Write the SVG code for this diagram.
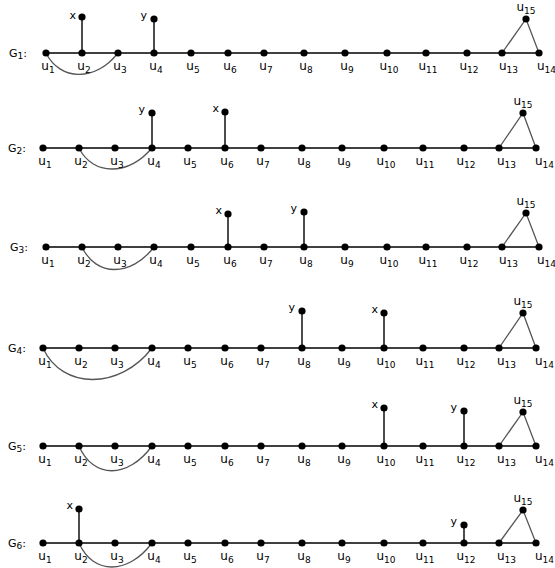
<svg xmlns="http://www.w3.org/2000/svg" width="555" height="568" viewBox="0 0 555 568">
<style>
.e{stroke:#000;stroke-width:1.4;fill:none}
.a{stroke:#555;stroke-width:1.3;fill:none}
circle{fill:#000}
text{font-family:"DejaVu Sans",Verdana,sans-serif;font-size:12px;fill:#000}
.m{text-anchor:middle}
.r{text-anchor:end;font-size:11px}
.s{font-size:9px}
.g{font-size:11px}
</style>
<rect width="555" height="568" fill="#fff"/>
<!-- G1 -->
<g id="connectors-G1">
<line class="e" x1="46" y1="53" x2="539" y2="53"/>
<line class="e" x1="82" y1="53" x2="82" y2="17"/>
<line class="e" x1="154" y1="53" x2="154" y2="19"/>
<path class="a" d="M46,53 C60,81 95,82 118,53"/>
<polyline class="a" points="502,53 526,19 539,53"/>
</g>
<g id="G1-label"><text class="g" x="9" y="57">G<tspan class="s" dy="2">1</tspan><tspan dy="-2">:</tspan></text></g>
<g id="G1-u1"><circle cx="46" cy="53" r="3.6"/><text class="m" x="48" y="70">u<tspan class="s" dy="3">1</tspan></text></g>
<g id="G1-u2"><circle cx="82" cy="53" r="3.6"/><text class="m" x="84" y="70">u<tspan class="s" dy="3">2</tspan></text></g>
<g id="G1-u3"><circle cx="118" cy="53" r="3.6"/><text class="m" x="120" y="70">u<tspan class="s" dy="3">3</tspan></text></g>
<g id="G1-u4"><circle cx="154" cy="53" r="3.6"/><text class="m" x="156" y="70">u<tspan class="s" dy="3">4</tspan></text></g>
<g id="G1-u5"><circle cx="191" cy="53" r="3.6"/><text class="m" x="193" y="70">u<tspan class="s" dy="3">5</tspan></text></g>
<g id="G1-u6"><circle cx="228" cy="53" r="3.6"/><text class="m" x="230" y="70">u<tspan class="s" dy="3">6</tspan></text></g>
<g id="G1-u7"><circle cx="264" cy="53" r="3.6"/><text class="m" x="266" y="70">u<tspan class="s" dy="3">7</tspan></text></g>
<g id="G1-u8"><circle cx="304" cy="53" r="3.6"/><text class="m" x="306" y="70">u<tspan class="s" dy="3">8</tspan></text></g>
<g id="G1-u9"><circle cx="345" cy="53" r="3.6"/><text class="m" x="347" y="70">u<tspan class="s" dy="3">9</tspan></text></g>
<g id="G1-u10"><circle cx="387" cy="53" r="3.6"/><text class="m" x="389" y="70">u<tspan class="s" dy="3">10</tspan></text></g>
<g id="G1-u11"><circle cx="426" cy="53" r="3.6"/><text class="m" x="428" y="70">u<tspan class="s" dy="3">11</tspan></text></g>
<g id="G1-u12"><circle cx="467" cy="53" r="3.6"/><text class="m" x="469" y="70">u<tspan class="s" dy="3">12</tspan></text></g>
<g id="G1-u13"><circle cx="502" cy="53" r="3.6"/><text x="499" y="70">u<tspan class="s" dy="3">13</tspan></text></g>
<g id="G1-u14"><circle cx="539" cy="53" r="3.6"/><text x="537" y="70">u<tspan class="s" dy="3">14</tspan></text></g>
<g id="G1-u15"><circle cx="526" cy="19" r="3.6"/><text class="m" x="526" y="11">u<tspan class="s" dy="3">15</tspan></text></g>
<g id="G1-x"><circle cx="82" cy="17" r="3.6"/><text class="r" x="76" y="19">x</text></g>
<g id="G1-y"><circle cx="154" cy="19" r="3.6"/><text class="r" x="147" y="19">y</text></g>
<!-- G2 -->
<g id="connectors-G2">
<line class="e" x1="43" y1="148" x2="536" y2="148"/>
<line class="e" x1="152" y1="148" x2="152" y2="113"/>
<line class="e" x1="225" y1="148" x2="225" y2="112"/>
<path class="a" d="M79,148 C93,176 128,176 152,148"/>
<polyline class="a" points="499,148 523,113 536,148"/>
</g>
<g id="G2-label"><text class="g" x="8" y="152">G<tspan class="s" dy="2">2</tspan><tspan dy="-2">:</tspan></text></g>
<g id="G2-u1"><circle cx="43" cy="148" r="3.6"/><text class="m" x="45" y="165">u<tspan class="s" dy="3">1</tspan></text></g>
<g id="G2-u2"><circle cx="79" cy="148" r="3.6"/><text class="m" x="81" y="165">u<tspan class="s" dy="3">2</tspan></text></g>
<g id="G2-u3"><circle cx="115" cy="148" r="3.6"/><text class="m" x="117" y="165">u<tspan class="s" dy="3">3</tspan></text></g>
<g id="G2-u4"><circle cx="152" cy="148" r="3.6"/><text class="m" x="154" y="165">u<tspan class="s" dy="3">4</tspan></text></g>
<g id="G2-u5"><circle cx="188" cy="148" r="3.6"/><text class="m" x="190" y="165">u<tspan class="s" dy="3">5</tspan></text></g>
<g id="G2-u6"><circle cx="225" cy="148" r="3.6"/><text class="m" x="227" y="165">u<tspan class="s" dy="3">6</tspan></text></g>
<g id="G2-u7"><circle cx="261" cy="148" r="3.6"/><text class="m" x="263" y="165">u<tspan class="s" dy="3">7</tspan></text></g>
<g id="G2-u8"><circle cx="302" cy="148" r="3.6"/><text class="m" x="304" y="165">u<tspan class="s" dy="3">8</tspan></text></g>
<g id="G2-u9"><circle cx="342" cy="148" r="3.6"/><text class="m" x="344" y="165">u<tspan class="s" dy="3">9</tspan></text></g>
<g id="G2-u10"><circle cx="384" cy="148" r="3.6"/><text class="m" x="386" y="165">u<tspan class="s" dy="3">10</tspan></text></g>
<g id="G2-u11"><circle cx="423" cy="148" r="3.6"/><text class="m" x="425" y="165">u<tspan class="s" dy="3">11</tspan></text></g>
<g id="G2-u12"><circle cx="464" cy="148" r="3.6"/><text class="m" x="466" y="165">u<tspan class="s" dy="3">12</tspan></text></g>
<g id="G2-u13"><circle cx="499" cy="148" r="3.6"/><text x="497" y="165">u<tspan class="s" dy="3">13</tspan></text></g>
<g id="G2-u14"><circle cx="536" cy="148" r="3.6"/><text x="535" y="165">u<tspan class="s" dy="3">14</tspan></text></g>
<g id="G2-u15"><circle cx="523" cy="113" r="3.6"/><text class="m" x="523" y="105">u<tspan class="s" dy="3">15</tspan></text></g>
<g id="G2-y"><circle cx="152" cy="113" r="3.6"/><text class="r" x="145" y="113">y</text></g>
<g id="G2-x"><circle cx="225" cy="112" r="3.6"/><text class="r" x="219" y="112">x</text></g>
<!-- G3 -->
<g id="connectors-G3">
<line class="e" x1="46" y1="247" x2="539" y2="247"/>
<line class="e" x1="228" y1="247" x2="228" y2="214"/>
<line class="e" x1="304" y1="247" x2="304" y2="212"/>
<path class="a" d="M82,247 C96,277 131,277 154,247"/>
<polyline class="a" points="502,247 526,213 539,247"/>
</g>
<g id="G3-label"><text class="g" x="10" y="251">G<tspan class="s" dy="2">3</tspan><tspan dy="-2">:</tspan></text></g>
<g id="G3-u1"><circle cx="46" cy="247" r="3.6"/><text class="m" x="48" y="264">u<tspan class="s" dy="3">1</tspan></text></g>
<g id="G3-u2"><circle cx="82" cy="247" r="3.6"/><text class="m" x="84" y="264">u<tspan class="s" dy="3">2</tspan></text></g>
<g id="G3-u3"><circle cx="118" cy="247" r="3.6"/><text class="m" x="120" y="264">u<tspan class="s" dy="3">3</tspan></text></g>
<g id="G3-u4"><circle cx="154" cy="247" r="3.6"/><text class="m" x="156" y="264">u<tspan class="s" dy="3">4</tspan></text></g>
<g id="G3-u5"><circle cx="191" cy="247" r="3.6"/><text class="m" x="193" y="264">u<tspan class="s" dy="3">5</tspan></text></g>
<g id="G3-u6"><circle cx="228" cy="247" r="3.6"/><text class="m" x="230" y="264">u<tspan class="s" dy="3">6</tspan></text></g>
<g id="G3-u7"><circle cx="264" cy="247" r="3.6"/><text class="m" x="266" y="264">u<tspan class="s" dy="3">7</tspan></text></g>
<g id="G3-u8"><circle cx="304" cy="247" r="3.6"/><text class="m" x="306" y="264">u<tspan class="s" dy="3">8</tspan></text></g>
<g id="G3-u9"><circle cx="345" cy="247" r="3.6"/><text class="m" x="347" y="264">u<tspan class="s" dy="3">9</tspan></text></g>
<g id="G3-u10"><circle cx="387" cy="247" r="3.6"/><text class="m" x="389" y="264">u<tspan class="s" dy="3">10</tspan></text></g>
<g id="G3-u11"><circle cx="426" cy="247" r="3.6"/><text class="m" x="428" y="264">u<tspan class="s" dy="3">11</tspan></text></g>
<g id="G3-u12"><circle cx="467" cy="247" r="3.6"/><text class="m" x="469" y="264">u<tspan class="s" dy="3">12</tspan></text></g>
<g id="G3-u13"><circle cx="502" cy="247" r="3.6"/><text x="499" y="264">u<tspan class="s" dy="3">13</tspan></text></g>
<g id="G3-u14"><circle cx="539" cy="247" r="3.6"/><text x="537" y="264">u<tspan class="s" dy="3">14</tspan></text></g>
<g id="G3-u15"><circle cx="526" cy="213" r="3.6"/><text class="m" x="526" y="205">u<tspan class="s" dy="3">15</tspan></text></g>
<g id="G3-x"><circle cx="228" cy="214" r="3.6"/><text class="r" x="222" y="214">x</text></g>
<g id="G3-y"><circle cx="304" cy="212" r="3.6"/><text class="r" x="297" y="212">y</text></g>
<!-- G4 -->
<g id="connectors-G4">
<line class="e" x1="43" y1="348" x2="536" y2="348"/>
<line class="e" x1="302" y1="348" x2="302" y2="311"/>
<line class="e" x1="384" y1="348" x2="384" y2="313"/>
<path class="a" d="M43,348 C62,390 120,390 152,348"/>
<polyline class="a" points="499,348 523,313 536,348"/>
</g>
<g id="G4-label"><text class="g" x="8" y="352">G<tspan class="s" dy="2">4</tspan><tspan dy="-2">:</tspan></text></g>
<g id="G4-u1"><circle cx="43" cy="348" r="3.6"/><text class="m" x="45" y="365">u<tspan class="s" dy="3">1</tspan></text></g>
<g id="G4-u2"><circle cx="79" cy="348" r="3.6"/><text class="m" x="81" y="365">u<tspan class="s" dy="3">2</tspan></text></g>
<g id="G4-u3"><circle cx="115" cy="348" r="3.6"/><text class="m" x="117" y="365">u<tspan class="s" dy="3">3</tspan></text></g>
<g id="G4-u4"><circle cx="152" cy="348" r="3.6"/><text class="m" x="154" y="365">u<tspan class="s" dy="3">4</tspan></text></g>
<g id="G4-u5"><circle cx="188" cy="348" r="3.6"/><text class="m" x="190" y="365">u<tspan class="s" dy="3">5</tspan></text></g>
<g id="G4-u6"><circle cx="225" cy="348" r="3.6"/><text class="m" x="227" y="365">u<tspan class="s" dy="3">6</tspan></text></g>
<g id="G4-u7"><circle cx="261" cy="348" r="3.6"/><text class="m" x="263" y="365">u<tspan class="s" dy="3">7</tspan></text></g>
<g id="G4-u8"><circle cx="302" cy="348" r="3.6"/><text class="m" x="304" y="365">u<tspan class="s" dy="3">8</tspan></text></g>
<g id="G4-u9"><circle cx="342" cy="348" r="3.6"/><text class="m" x="344" y="365">u<tspan class="s" dy="3">9</tspan></text></g>
<g id="G4-u10"><circle cx="384" cy="348" r="3.6"/><text class="m" x="386" y="365">u<tspan class="s" dy="3">10</tspan></text></g>
<g id="G4-u11"><circle cx="423" cy="348" r="3.6"/><text class="m" x="425" y="365">u<tspan class="s" dy="3">11</tspan></text></g>
<g id="G4-u12"><circle cx="464" cy="348" r="3.6"/><text class="m" x="466" y="365">u<tspan class="s" dy="3">12</tspan></text></g>
<g id="G4-u13"><circle cx="499" cy="348" r="3.6"/><text x="497" y="365">u<tspan class="s" dy="3">13</tspan></text></g>
<g id="G4-u14"><circle cx="536" cy="348" r="3.6"/><text x="535" y="365">u<tspan class="s" dy="3">14</tspan></text></g>
<g id="G4-u15"><circle cx="523" cy="313" r="3.6"/><text class="m" x="523" y="305">u<tspan class="s" dy="3">15</tspan></text></g>
<g id="G4-y"><circle cx="302" cy="311" r="3.6"/><text class="r" x="295" y="311">y</text></g>
<g id="G4-x"><circle cx="384" cy="313" r="3.6"/><text class="r" x="378" y="313">x</text></g>
<!-- G5 -->
<g id="connectors-G5">
<line class="e" x1="43" y1="446" x2="536" y2="446"/>
<line class="e" x1="384" y1="446" x2="384" y2="408"/>
<line class="e" x1="464" y1="446" x2="464" y2="411"/>
<path class="a" d="M79,446 C93,479 128,479 152,446"/>
<polyline class="a" points="499,446 523,412 536,446"/>
</g>
<g id="G5-label"><text class="g" x="8" y="450">G<tspan class="s" dy="2">5</tspan><tspan dy="-2">:</tspan></text></g>
<g id="G5-u1"><circle cx="43" cy="446" r="3.6"/><text class="m" x="45" y="463">u<tspan class="s" dy="3">1</tspan></text></g>
<g id="G5-u2"><circle cx="79" cy="446" r="3.6"/><text class="m" x="81" y="463">u<tspan class="s" dy="3">2</tspan></text></g>
<g id="G5-u3"><circle cx="115" cy="446" r="3.6"/><text class="m" x="117" y="463">u<tspan class="s" dy="3">3</tspan></text></g>
<g id="G5-u4"><circle cx="152" cy="446" r="3.6"/><text class="m" x="154" y="463">u<tspan class="s" dy="3">4</tspan></text></g>
<g id="G5-u5"><circle cx="188" cy="446" r="3.6"/><text class="m" x="190" y="463">u<tspan class="s" dy="3">5</tspan></text></g>
<g id="G5-u6"><circle cx="225" cy="446" r="3.6"/><text class="m" x="227" y="463">u<tspan class="s" dy="3">6</tspan></text></g>
<g id="G5-u7"><circle cx="261" cy="446" r="3.6"/><text class="m" x="263" y="463">u<tspan class="s" dy="3">7</tspan></text></g>
<g id="G5-u8"><circle cx="302" cy="446" r="3.6"/><text class="m" x="304" y="463">u<tspan class="s" dy="3">8</tspan></text></g>
<g id="G5-u9"><circle cx="342" cy="446" r="3.6"/><text class="m" x="344" y="463">u<tspan class="s" dy="3">9</tspan></text></g>
<g id="G5-u10"><circle cx="384" cy="446" r="3.6"/><text class="m" x="386" y="463">u<tspan class="s" dy="3">10</tspan></text></g>
<g id="G5-u11"><circle cx="423" cy="446" r="3.6"/><text class="m" x="425" y="463">u<tspan class="s" dy="3">11</tspan></text></g>
<g id="G5-u12"><circle cx="464" cy="446" r="3.6"/><text class="m" x="466" y="463">u<tspan class="s" dy="3">12</tspan></text></g>
<g id="G5-u13"><circle cx="499" cy="446" r="3.6"/><text x="497" y="463">u<tspan class="s" dy="3">13</tspan></text></g>
<g id="G5-u14"><circle cx="536" cy="446" r="3.6"/><text x="535" y="463">u<tspan class="s" dy="3">14</tspan></text></g>
<g id="G5-u15"><circle cx="523" cy="412" r="3.6"/><text class="m" x="523" y="404">u<tspan class="s" dy="3">15</tspan></text></g>
<g id="G5-x"><circle cx="384" cy="408" r="3.6"/><text class="r" x="378" y="408">x</text></g>
<g id="G5-y"><circle cx="464" cy="411" r="3.6"/><text class="r" x="457" y="411">y</text></g>
<!-- G6 -->
<g id="connectors-G6">
<line class="e" x1="43" y1="543" x2="536" y2="543"/>
<line class="e" x1="79" y1="543" x2="79" y2="509"/>
<line class="e" x1="464" y1="543" x2="464" y2="525"/>
<path class="a" d="M79,543 C93,575 128,575 152,543"/>
<polyline class="a" points="499,543 523,510 536,543"/>
</g>
<g id="G6-label"><text class="g" x="8" y="547">G<tspan class="s" dy="2">6</tspan><tspan dy="-2">:</tspan></text></g>
<g id="G6-u1"><circle cx="43" cy="543" r="3.6"/><text class="m" x="45" y="560">u<tspan class="s" dy="3">1</tspan></text></g>
<g id="G6-u2"><circle cx="79" cy="543" r="3.6"/><text class="m" x="81" y="560">u<tspan class="s" dy="3">2</tspan></text></g>
<g id="G6-u3"><circle cx="115" cy="543" r="3.6"/><text class="m" x="117" y="560">u<tspan class="s" dy="3">3</tspan></text></g>
<g id="G6-u4"><circle cx="152" cy="543" r="3.6"/><text class="m" x="154" y="560">u<tspan class="s" dy="3">4</tspan></text></g>
<g id="G6-u5"><circle cx="188" cy="543" r="3.6"/><text class="m" x="190" y="560">u<tspan class="s" dy="3">5</tspan></text></g>
<g id="G6-u6"><circle cx="225" cy="543" r="3.6"/><text class="m" x="227" y="560">u<tspan class="s" dy="3">6</tspan></text></g>
<g id="G6-u7"><circle cx="261" cy="543" r="3.6"/><text class="m" x="263" y="560">u<tspan class="s" dy="3">7</tspan></text></g>
<g id="G6-u8"><circle cx="302" cy="543" r="3.6"/><text class="m" x="304" y="560">u<tspan class="s" dy="3">8</tspan></text></g>
<g id="G6-u9"><circle cx="342" cy="543" r="3.6"/><text class="m" x="344" y="560">u<tspan class="s" dy="3">9</tspan></text></g>
<g id="G6-u10"><circle cx="384" cy="543" r="3.6"/><text class="m" x="386" y="560">u<tspan class="s" dy="3">10</tspan></text></g>
<g id="G6-u11"><circle cx="423" cy="543" r="3.6"/><text class="m" x="425" y="560">u<tspan class="s" dy="3">11</tspan></text></g>
<g id="G6-u12"><circle cx="464" cy="543" r="3.6"/><text class="m" x="466" y="560">u<tspan class="s" dy="3">12</tspan></text></g>
<g id="G6-u13"><circle cx="499" cy="543" r="3.6"/><text x="497" y="560">u<tspan class="s" dy="3">13</tspan></text></g>
<g id="G6-u14"><circle cx="536" cy="543" r="3.6"/><text x="535" y="560">u<tspan class="s" dy="3">14</tspan></text></g>
<g id="G6-u15"><circle cx="523" cy="510" r="3.6"/><text class="m" x="523" y="502">u<tspan class="s" dy="3">15</tspan></text></g>
<g id="G6-x"><circle cx="79" cy="509" r="3.6"/><text class="r" x="73" y="509">x</text></g>
<g id="G6-y"><circle cx="464" cy="525" r="3.6"/><text class="r" x="457" y="525">y</text></g>
</svg>
